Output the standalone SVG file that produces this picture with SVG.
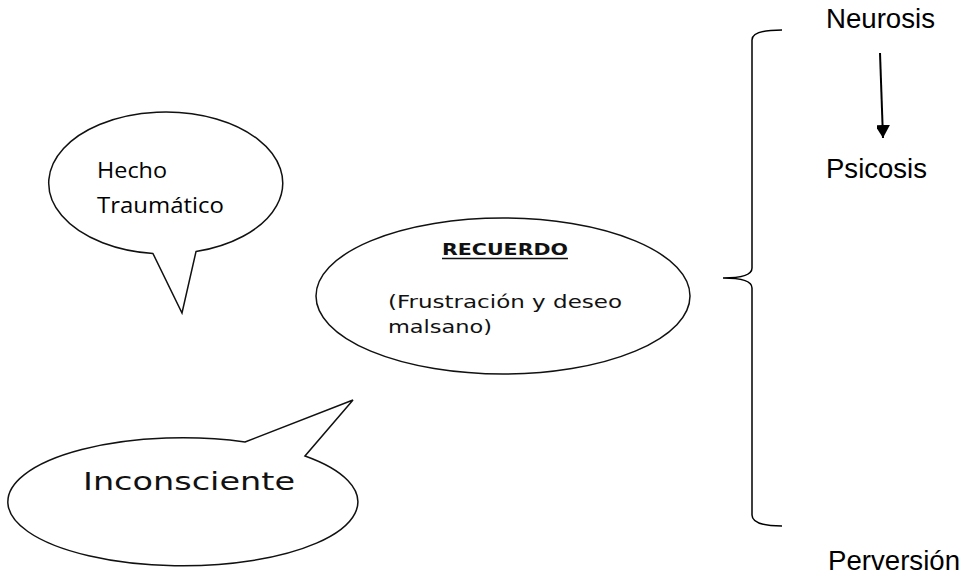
<svg xmlns="http://www.w3.org/2000/svg" width="967" height="575" viewBox="0 0 967 575">
<style>
.shape{fill:#fff;stroke:#111;stroke-width:1.5;stroke-linejoin:miter}
.arial{font-family:"Liberation Sans",Arial,sans-serif;font-size:27px;fill:#000}
.cal{font-family:"Open Sans","Noto Sans",sans-serif;font-size:22px;fill:#000}
.bmp{font-family:"DejaVu Sans","Noto Sans",sans-serif;fill:#111}
</style>
<defs>
<marker id="ah" markerWidth="15" markerHeight="13" refX="13" refY="7.5" orient="auto" markerUnits="userSpaceOnUse">
<path d="M0,0 L13,7.5 L0,15 Z" fill="#000"/>
</marker>
</defs>
<rect width="967" height="575" fill="#fff"/>
<g id="hecho">
<path class="shape" d="M153,253.6 A117,71 0 1 1 196,251.6 L182,313 Z"/>
<text class="cal" x="97" y="178" textLength="70" lengthAdjust="spacingAndGlyphs">Hecho</text>
<text class="cal" x="97" y="213" textLength="127" lengthAdjust="spacingAndGlyphs">Traumático</text>
</g>
<g id="recuerdo">
<ellipse class="shape" cx="503" cy="296" rx="187" ry="78"/>
<text class="bmp" x="442" y="255" font-size="15" font-weight="bold" textLength="126" lengthAdjust="spacingAndGlyphs">RECUERDO</text>
<line x1="442" y1="258.5" x2="568" y2="258.5" stroke="#111" stroke-width="1.3"/>
<text class="bmp" x="388" y="308" font-size="17" textLength="234" lengthAdjust="spacingAndGlyphs">(Frustración y deseo</text>
<text class="bmp" x="388" y="333" font-size="17" textLength="104" lengthAdjust="spacingAndGlyphs">malsano)</text>
</g>
<g id="inconsciente">
<path class="shape" d="M245,442 L353,400 L305,456 A175,64 0 1 1 245,442 Z"/>
<text class="bmp" x="83" y="490" font-size="24" textLength="212" lengthAdjust="spacingAndGlyphs">Inconsciente</text>
</g>
<g id="neurosis"><text class="arial" x="826" y="28" textLength="109" lengthAdjust="spacingAndGlyphs">Neurosis</text></g>
<g id="psicosis"><text class="arial" x="826" y="178" textLength="101" lengthAdjust="spacingAndGlyphs">Psicosis</text></g>
<g id="perversion"><text class="arial" x="828" y="570" textLength="132" lengthAdjust="spacingAndGlyphs">Perversión</text></g>
<g id="connectors">
<line x1="880" y1="53" x2="883" y2="138" stroke="#000" stroke-width="2" marker-end="url(#ah)"/>
<path d="M782,30 Q752,30 752,40 L752,268 Q752,278 723,278 Q752,278 752,288 L752,515 Q752,526 782,526" fill="none" stroke="#000" stroke-width="1.5"/>
</g>
</svg>
